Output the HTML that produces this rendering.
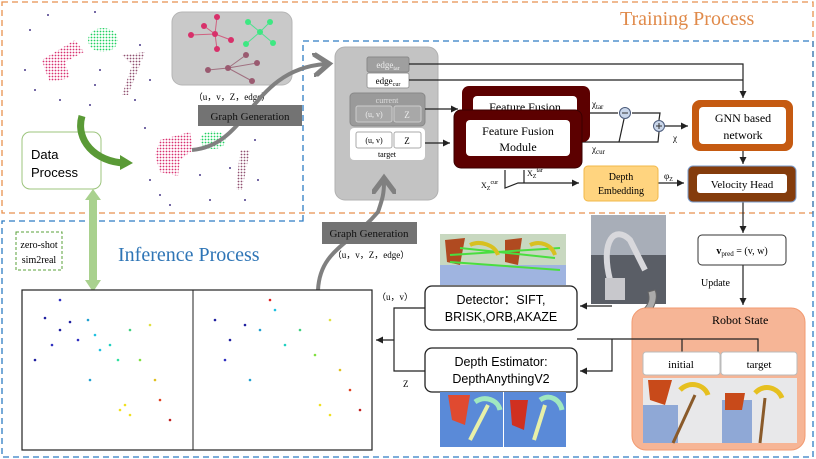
<!DOCTYPE html>
<html><head><meta charset="utf-8"><style>
body{margin:0;background:#fff}
svg{display:block}
text{font-family:"Liberation Serif",serif}
.s{font-family:"Liberation Sans",sans-serif}
</style></head><body>
<svg width="816" height="459" viewBox="0 0 816 459" xmlns="http://www.w3.org/2000/svg">
<defs>
<marker id="a" markerWidth="8" markerHeight="8" refX="6" refY="3" orient="auto"><path d="M0,0 L6,3 L0,6z" fill="#222"/></marker>
<marker id="g" markerWidth="6" markerHeight="6" refX="3" refY="3" orient="auto"><path d="M0,0 L4,3 L0,6" fill="none" stroke="#808080" stroke-width="1.3"/></marker>
<pattern id="pp" width="3" height="3" patternUnits="userSpaceOnUse"><circle cx="1.5" cy="1.5" r="0.9" fill="#d83070"/></pattern>
<pattern id="pg" width="3" height="3" patternUnits="userSpaceOnUse"><circle cx="1.5" cy="1.5" r="0.9" fill="#20d060"/></pattern>
<pattern id="pb" width="3" height="3" patternUnits="userSpaceOnUse"><circle cx="1.5" cy="1.5" r="0.9" fill="#905070"/></pattern>
</defs>
<rect x="2" y="2" width="811" height="211" fill="none" stroke="#e8914f" stroke-width="1.3" stroke-dasharray="6,4"/>
<path d="M303,221 V41 H813 V457 H2 V221 Z" fill="none" stroke="#2e7cc4" stroke-width="1.3" stroke-dasharray="6,4"/>
<text x="620" y="25" font-size="20" fill="#e08a4a">Training Process</text>
<text x="118" y="261" font-size="20" fill="#2e75b6">Inference Process</text>

<path d="M42,60 L75,40 L84,52 L65,62 L70,78 L50,82 L45,70z" fill="url(#pp)"/>
<ellipse cx="103" cy="40" rx="15" ry="12" fill="url(#pg)"/>
<path d="M122,55 L145,52 L140,65 L128,95 L122,95 L132,65z" fill="url(#pb)"/>
<path d="M160,140 L190,132 L193,150 L180,160 L178,176 L160,172 L155,155z" fill="url(#pp)"/>
<ellipse cx="213" cy="140" rx="13" ry="9" fill="url(#pg)"/>
<path d="M240,150 L250,150 L242,190 L236,190z" fill="url(#pb)"/>
<g fill="#4a3a8a">
<circle cx="30" cy="30" r="1"/><circle cx="48" cy="15" r="1"/><circle cx="95" cy="12" r="1"/><circle cx="25" cy="70" r="1"/><circle cx="35" cy="90" r="1"/><circle cx="60" cy="100" r="1"/><circle cx="95" cy="85" r="1"/><circle cx="100" cy="70" r="1"/><circle cx="140" cy="45" r="1"/><circle cx="150" cy="80" r="1"/><circle cx="135" cy="100" r="1"/><circle cx="90" cy="105" r="1"/><circle cx="150" cy="180" r="1"/><circle cx="160" cy="195" r="1"/><circle cx="200" cy="175" r="1"/><circle cx="230" cy="168" r="1"/><circle cx="255" cy="140" r="1"/><circle cx="258" cy="180" r="1"/><circle cx="210" cy="200" r="1"/><circle cx="245" cy="200" r="1"/><circle cx="170" cy="205" r="1"/><circle cx="145" cy="128" r="1"/>
</g>
<rect x="172" y="12" width="120" height="73" rx="10" fill="#c9c9c9" stroke="#b5b5b5"/>
<g stroke="#d06080" stroke-width="1"><line x1="215" y1="34" x2="204" y2="26"/><line x1="215" y1="34" x2="191" y2="35"/><line x1="215" y1="34" x2="217" y2="17"/><line x1="215" y1="34" x2="231" y2="40"/><line x1="215" y1="34" x2="217" y2="49"/></g>
<g fill="#d8306a"><circle cx="215" cy="34" r="3"/><circle cx="204" cy="26" r="3"/><circle cx="191" cy="35" r="3"/><circle cx="217" cy="17" r="3"/><circle cx="231" cy="40" r="3"/><circle cx="217" cy="49" r="3"/></g>
<g stroke="#50e090"><line x1="260" y1="32" x2="248" y2="22"/><line x1="260" y1="32" x2="270" y2="22"/><line x1="260" y1="32" x2="246" y2="44"/><line x1="260" y1="32" x2="273" y2="43"/></g>
<g fill="#3de882"><circle cx="260" cy="32" r="3"/><circle cx="248" cy="22" r="3"/><circle cx="270" cy="22" r="3"/><circle cx="246" cy="44" r="3"/><circle cx="273" cy="43" r="3"/></g>
<g stroke="#a07080"><line x1="228" y1="68" x2="208" y2="70"/><line x1="228" y1="68" x2="246" y2="55"/><line x1="228" y1="68" x2="257" y2="63"/><line x1="228" y1="68" x2="252" y2="81"/></g>
<g fill="#9a5a70"><circle cx="228" cy="68" r="3"/><circle cx="208" cy="70" r="3"/><circle cx="246" cy="55" r="3"/><circle cx="257" cy="63" r="3"/><circle cx="252" cy="81" r="3"/></g>
<text x="232" y="100" font-size="9" text-anchor="middle">（u，v，Z，edge）</text>
<path d="M192,150 C250,145 250,70 325,64" fill="none" stroke="#808080" stroke-width="4" marker-end="url(#g)"/>
<rect x="198" y="105" width="104" height="21" fill="#737373"/>
<text x="250" y="120" font-size="11" text-anchor="middle" fill="#111">Graph Generation</text>
<rect x="22" y="132" width="79" height="57" rx="8" fill="#fff" stroke="#9cc47c"/>
<text class="s" x="31" y="159" font-size="13">Data</text>
<text class="s" x="31" y="177" font-size="13">Process</text>
<path d="M82,116 C75,140 95,162 125,163" fill="none" stroke="#5a9a36" stroke-width="7"/>
<path d="M120,155 L133,163 L120,170z" fill="#5a9a36"/>
<rect x="89" y="198" width="8" height="84" fill="#a9d18e"/>
<path d="M85,200 L93,189 L101,200z M85,280 L93,292 L101,280z" fill="#a9d18e"/>
<rect x="16" y="232" width="46" height="38" fill="#fff" stroke="#5aa03a" stroke-dasharray="3,2"/>
<text x="39" y="248" font-size="10" text-anchor="middle">zero-shot</text>
<text x="39" y="263" font-size="10" text-anchor="middle">sim2real</text>

<rect x="335" y="47" width="103" height="153" rx="10" fill="#c3c3c3" stroke="#b0b0b0"/>
<rect x="367" y="57" width="42" height="15" rx="2" fill="#9f9f9f" stroke="#888"/>
<text x="388" y="68" font-size="9" text-anchor="middle" fill="#eee">edge<tspan font-size="6" dy="2">tar</tspan></text>
<rect x="367" y="73" width="42" height="15" rx="2" fill="#fff" stroke="#999"/>
<text x="388" y="84" font-size="9" text-anchor="middle">edge<tspan font-size="6" dy="2">cur</tspan></text>
<rect x="350" y="93" width="75" height="33" rx="4" fill="#9a9a9a" stroke="#888"/>
<text x="387" y="103" font-size="8" text-anchor="middle" fill="#ddd">current</text>
<rect x="356" y="106" width="36" height="16" rx="2" fill="#a8a8a8" stroke="#ccc"/>
<text x="374" y="117" font-size="8" text-anchor="middle" fill="#eee">(u, v)</text>
<rect x="394" y="106" width="27" height="16" rx="2" fill="#a8a8a8" stroke="#ccc"/>
<text x="407" y="118" font-size="9" text-anchor="middle" fill="#eee">Z</text>
<rect x="350" y="128" width="75" height="32" rx="4" fill="#fff"/>
<rect x="356" y="132" width="36" height="16" rx="2" fill="#fff" stroke="#aaa"/>
<text x="374" y="143" font-size="8" text-anchor="middle">(u, v)</text>
<rect x="394" y="132" width="27" height="16" rx="2" fill="#fff" stroke="#aaa"/>
<text x="407" y="144" font-size="9" text-anchor="middle">Z</text>
<text x="387" y="157" font-size="8" text-anchor="middle">target</text>

<g stroke="#222" stroke-width="1.2" fill="none">
<path d="M409,64 H743 V98" marker-end="url(#a)"/>
<path d="M409,80 H743"/>
<path d="M425,109 H458" marker-end="url(#a)"/>
<path d="M425,143 H450" marker-end="url(#a)"/>
<path d="M590,113 H618"/>
<path d="M632,113 H660 L659,120"/>
<path d="M582,142 H658 L659,132"/>
<path d="M619,142 L624,119"/>
<path d="M664,126 H688" marker-end="url(#a)"/>
<path d="M743,151 V164" marker-end="url(#a)"/>
<path d="M505,170 V188 L518,183 H579" marker-end="url(#a)"/>
<path d="M524,170 V183"/>
<path d="M658,183 H684" marker-end="url(#a)"/>
<path d="M743,202 V233" marker-end="url(#a)"/>
<path d="M743,265 V305" marker-end="url(#a)"/>
</g>
<circle cx="625" cy="113" r="5.5" fill="#c9d6ea" stroke="#4a5a7a"/><line x1="622" y1="113" x2="628" y2="113" stroke="#333"/>
<circle cx="659" cy="126" r="5.5" fill="#c9d6ea" stroke="#4a5a7a"/><path d="M656,126 H662 M659,123 V129" stroke="#333"/>
<text x="592" y="107" font-size="9">χ<tspan font-size="7" dy="2">tar</tspan></text>
<text x="592" y="152" font-size="9">χ<tspan font-size="7" dy="2">cur</tspan></text>
<text x="673" y="141" font-size="9">χ</text>
<text x="481" y="188" font-size="8">X<tspan font-size="6" dy="2">Z</tspan><tspan font-size="6" dy="-6">cur</tspan></text>
<text x="527" y="176" font-size="8">X<tspan font-size="6" dy="2">Z</tspan><tspan font-size="6" dy="-6">tar</tspan></text>
<text x="664" y="179" font-size="9">φ<tspan font-size="6" dy="2">Z</tspan></text>

<rect x="462" y="86" width="128" height="56" rx="7" fill="#5c0000"/>
<rect x="473" y="96" width="104" height="40" rx="4" fill="#fff"/>
<text x="525" y="111" font-size="12" text-anchor="middle">Feature Fusion</text>
<rect x="454" y="110" width="128" height="58" rx="7" fill="#5c0000" stroke="#3a0000"/>
<rect x="466" y="120" width="104" height="36" rx="4" fill="#fff"/>
<text x="518" y="135" font-size="12" text-anchor="middle">Feature Fusion</text>
<text x="518" y="151" font-size="12" text-anchor="middle">Module</text>

<rect x="692" y="100" width="101" height="51" rx="8" fill="#c55a11"/>
<rect x="699" y="107" width="87" height="37" rx="4" fill="#fff"/>
<text x="743" y="122" font-size="12" text-anchor="middle">GNN based</text>
<text x="743" y="139" font-size="12" text-anchor="middle">network</text>
<rect x="688" y="166" width="108" height="36" rx="5" fill="#843c0c" stroke="#7a9ccc"/>
<rect x="697" y="174" width="90" height="19" rx="3" fill="#fff"/>
<text x="742" y="188" font-size="11" text-anchor="middle">Velocity Head</text>
<rect x="584" y="166" width="74" height="35" rx="4" fill="#ffd47f" stroke="#f2b94a"/>
<text x="621" y="180" font-size="10" text-anchor="middle">Depth</text>
<text x="621" y="194" font-size="10" text-anchor="middle">Embedding</text>

<rect x="698" y="235" width="88" height="30" rx="4" fill="#fff" stroke="#333"/>
<text x="742" y="254" font-size="10" text-anchor="middle"><tspan font-weight="bold">v</tspan><tspan font-size="7" dy="2">pred</tspan><tspan dy="-2"> = (v, w)</tspan></text>
<text x="701" y="286" font-size="10">Update</text>

<rect x="591" y="215" width="75" height="89" fill="#5a5e66"/>
<rect x="591" y="215" width="75" height="40" fill="#a8aeb8"/>
<path d="M610,280 C600,240 615,225 630,240 L645,270" fill="none" stroke="#d8d8dc" stroke-width="6"/>
<rect x="605" y="278" width="20" height="22" fill="#c8c8cc"/>
<path d="M655,290 C660,300 650,318 638,322 L640,312 C650,305 650,298 648,292z" fill="#ababab" stroke="#666"/>

<rect x="632" y="308" width="173" height="142" rx="14" fill="#f6b596" stroke="#f29a70"/>
<text x="712" y="324" font-size="12">Robot State</text>
<g stroke="#222" stroke-width="1.2" fill="none">
<path d="M577,339 H682 V352 M682,339 H758 V352"/>
<path d="M612,339 V371 H580" marker-end="url(#a)"/>
<path d="M612,306 H580" marker-end="url(#a)"/>
</g>
<rect x="643" y="352" width="77" height="23" rx="3" fill="#fff" stroke="#bbb"/>
<text x="681" y="368" font-size="11" text-anchor="middle">initial</text>
<rect x="721" y="352" width="76" height="23" rx="3" fill="#fff" stroke="#bbb"/>
<text x="759" y="368" font-size="11" text-anchor="middle">target</text>
<rect x="643" y="378" width="154" height="65" fill="#e8e8ea"/>
<rect x="643" y="405" width="35" height="38" fill="#8fa8d6"/>
<rect x="722" y="400" width="30" height="43" fill="#8fa8d6"/>
<path d="M648,380 L672,380 L665,405 L650,400z" fill="#c84a1a"/>
<path d="M725,393 L745,393 L742,410 L725,410z" fill="#c84a1a"/>
<path d="M680,390 C690,380 705,385 708,395" stroke="#e6c020" stroke-width="5" fill="none"/>
<path d="M755,393 C765,383 778,388 782,398" stroke="#e6c020" stroke-width="5" fill="none"/>
<line x1="673" y1="443" x2="695" y2="395" stroke="#8a5a2a" stroke-width="3"/>
<line x1="760" y1="443" x2="765" y2="398" stroke="#8a5a2a" stroke-width="3"/>

<rect x="425" y="286" width="152" height="44" rx="7" fill="#fff" stroke="#222" stroke-width="1.3"/>
<text class="s" x="501" y="304" font-size="12.5" text-anchor="middle">Detector：SIFT,</text>
<text class="s" x="501" y="321" font-size="12.5" text-anchor="middle">BRISK,ORB,AKAZE</text>
<rect x="425" y="348" width="152" height="44" rx="7" fill="#fff" stroke="#222" stroke-width="1.3"/>
<text class="s" x="501" y="366" font-size="12.5" text-anchor="middle">Depth Estimator:</text>
<text class="s" x="501" y="383" font-size="12.5" text-anchor="middle">DepthAnythingV2</text>
<g stroke="#222" stroke-width="1.2" fill="none">
<path d="M425,308 H394 V371 H425 M394,340 H376" marker-end="url(#a)"/>
</g>
<text x="377" y="300" font-size="9">（u，v）</text>
<text x="403" y="387" font-size="9">Z</text>
<rect x="440" y="234" width="126" height="51" fill="#c8d8c0"/>
<rect x="440" y="265" width="126" height="20" fill="#9fb4e0"/>
<path d="M445,240 L465,238 L460,265 L447,262z" fill="#b04a20"/>
<path d="M505,240 L522,238 L518,265 L505,262z" fill="#b04a20"/>
<path d="M450,255 L560,248 M450,262 L560,270 M460,248 L555,258" stroke="#4ade40" stroke-width="2"/>
<path d="M470,245 C480,240 495,245 498,255 M530,245 C540,240 552,245 555,255" stroke="#d8c020" stroke-width="4" fill="none"/>
<rect x="440" y="392" width="126" height="55" fill="#5a8ad8"/>
<rect x="503" y="392" width="1" height="55" fill="#fff"/>
<path d="M448,395 L470,395 L465,425 L452,420z" fill="#e04a30"/>
<path d="M510,400 L528,400 L524,430 L512,425z" fill="#d03020"/>
<path d="M470,440 L488,405 M534,440 L545,405" stroke="#e8f0a8" stroke-width="4"/>
<path d="M475,402 C485,395 498,400 500,410 M540,400 C550,393 560,400 562,410" stroke="#a0e8c0" stroke-width="5" fill="none"/>

<path d="M318,290 C320,250 350,245 378,212 C382,200 384,195 384,182" fill="none" stroke="#808080" stroke-width="4" marker-end="url(#g)"/>
<rect x="322" y="222" width="95" height="22" fill="#737373"/>
<text x="369" y="237" font-size="11" text-anchor="middle" fill="#111">Graph Generation</text>
<text x="371" y="258" font-size="9" text-anchor="middle">（u，v，Z，edge）</text>

<rect x="22" y="290" width="350" height="160" fill="#fff" stroke="#222" stroke-width="1.2"/>
<line x1="193" y1="290" x2="193" y2="450" stroke="#222"/>
<g>
<circle cx="45" cy="318" r="1.3" fill="#2020a0"/><circle cx="60" cy="330" r="1.3" fill="#2020a0"/><circle cx="70" cy="322" r="1.3" fill="#2020a0"/><circle cx="52" cy="345" r="1.3" fill="#3030c0"/><circle cx="78" cy="340" r="1.3" fill="#3030c0"/><circle cx="88" cy="320" r="1.3" fill="#20a0d0"/><circle cx="95" cy="335" r="1.3" fill="#20c0e0"/><circle cx="100" cy="350" r="1.3" fill="#20c0e0"/><circle cx="110" cy="345" r="1.3" fill="#20d0c0"/><circle cx="118" cy="360" r="1.3" fill="#30e0a0"/><circle cx="130" cy="330" r="1.3" fill="#40d080"/><circle cx="140" cy="360" r="1.3" fill="#80e040"/><circle cx="150" cy="325" r="1.3" fill="#e0e040"/><circle cx="155" cy="380" r="1.3" fill="#e0c020"/><circle cx="125" cy="405" r="1.3" fill="#f0e020"/><circle cx="130" cy="415" r="1.3" fill="#f0e020"/><circle cx="120" cy="410" r="1.3" fill="#f0e020"/><circle cx="160" cy="400" r="1.3" fill="#e04020"/><circle cx="170" cy="420" r="1.3" fill="#c02020"/><circle cx="35" cy="360" r="1.3" fill="#2020a0"/><circle cx="90" cy="380" r="1.3" fill="#20a0d0"/><circle cx="60" cy="300" r="1.3" fill="#3030c0"/>
<circle cx="215" cy="320" r="1.3" fill="#2020a0"/><circle cx="230" cy="340" r="1.3" fill="#2020a0"/><circle cx="245" cy="325" r="1.3" fill="#2020a0"/><circle cx="225" cy="360" r="1.3" fill="#3030c0"/><circle cx="260" cy="330" r="1.3" fill="#20a0d0"/><circle cx="275" cy="310" r="1.3" fill="#20c0e0"/><circle cx="285" cy="345" r="1.3" fill="#20d0c0"/><circle cx="300" cy="330" r="1.3" fill="#40d080"/><circle cx="315" cy="355" r="1.3" fill="#80e040"/><circle cx="330" cy="320" r="1.3" fill="#e0e040"/><circle cx="340" cy="370" r="1.3" fill="#e0c020"/><circle cx="320" cy="405" r="1.3" fill="#f0e020"/><circle cx="330" cy="415" r="1.3" fill="#f0e020"/><circle cx="350" cy="390" r="1.3" fill="#e04020"/><circle cx="360" cy="410" r="1.3" fill="#c02020"/><circle cx="270" cy="300" r="1.3" fill="#e02020"/><circle cx="250" cy="380" r="1.3" fill="#20a0d0"/>
</g>
</svg>
</body></html>
